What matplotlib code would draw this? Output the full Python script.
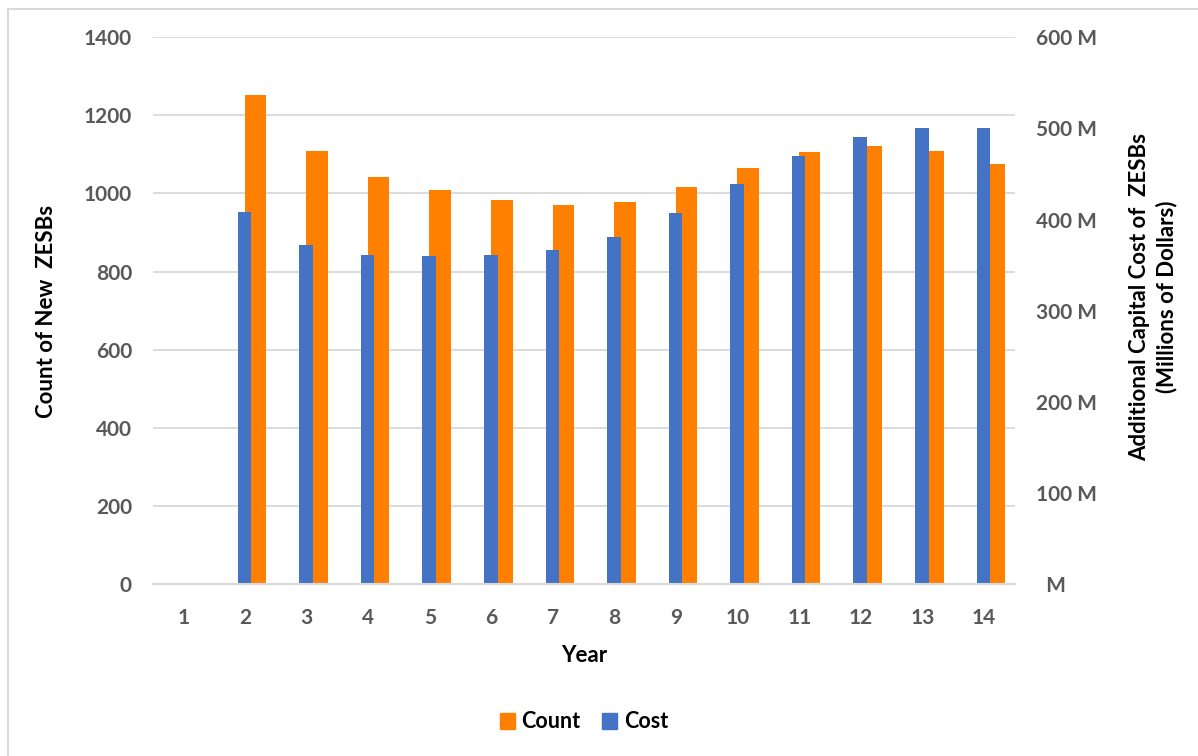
import matplotlib.pyplot as plt
from matplotlib.lines import Line2D
from matplotlib.patches import Patch
from matplotlib.ticker import FuncFormatter

YEARS = list(range(1, 15))
COUNT = [0, 1252, 1109, 1043, 1009, 983, 970, 978, 1016, 1065, 1106, 1121, 1110, 1076]
COST_M = [0, 408, 372, 361, 360, 361, 367, 381, 407, 439, 470, 491, 500, 500]

ORANGE = "#ff7f00"
BLUE = "#4472c4"
GREY_TEXT = "#595959"
GRID = "#d9d9d9"
FONT = "Lato"
W, H = 1198, 756


def main():
    plt.rcParams["font.family"] = [FONT, "DejaVu Sans"]
    plt.rcParams["font.weight"] = "bold"

    fig = plt.figure(figsize=(W / 100, H / 100), dpi=100)
    ax = fig.add_axes([0.1275, 0.2275, 0.7195, 0.7232])
    ax2 = ax.twinx()

    ax.bar([y + 0.17 for y in YEARS], COUNT, width=0.35, color=ORANGE, zorder=2)
    ax2.bar([y - 0.01 for y in YEARS], COST_M, width=0.22, color=BLUE, zorder=2)

    ax.set_xlim(0.5, 14.5)
    ax.set_ylim(0, 1400)
    ax2.set_ylim(0, 600)
    ax.set_xticks(YEARS)
    ax.set_yticks(range(0, 1401, 200))
    ax2.set_yticks(range(0, 601, 100))
    ax2.yaxis.set_major_formatter(
        FuncFormatter(lambda v, _: "  M" if v == 0 else f"{int(v)} M")
    )

    ax.grid(axis="y", color=GRID, linewidth=1.3, zorder=0)
    ax.set_axisbelow(True)
    for a in (ax, ax2):
        for side in ("top", "right", "left"):
            a.spines[side].set_visible(False)
        a.spines["bottom"].set_color(GRID)
        a.spines["bottom"].set_linewidth(1.5)
        a.tick_params(length=0, labelsize=15, labelcolor=GREY_TEXT)
    ax.tick_params(axis="y", pad=15)
    ax2.tick_params(axis="y", pad=15)
    ax.tick_params(axis="x", pad=17)

    fig.text(584 / W, 1 - 656 / H, "Year", fontsize=16, fontweight="bold",
             ha="center", va="center")
    fig.text(47 / W, 1 - 311 / H, "Count of New  ZESBs", fontsize=16,
             fontweight="bold", ha="center", va="center", rotation=90)
    fig.text(1153 / W, 1 - 297 / H,
             "Additional Capital Cost of  ZESBs\n(Millions of Dollars)",
             fontsize=16, fontweight="bold", ha="center", va="center",
             rotation=90, multialignment="center", linespacing=1.3)

    handles = [Patch(color=ORANGE, label="Count"), Patch(color=BLUE, label="Cost")]
    fig.legend(
        handles=handles, loc="center", bbox_to_anchor=(584 / W, 1 - 722 / H), ncol=2,
        frameon=False, fontsize=15.5, handlelength=0.7, handleheight=0.7,
        handletextpad=0.3, columnspacing=1.0,
    )

    # chart area border (left and top edges)
    fig.add_artist(Line2D([8 / W, 8 / W], [0, 1 - 9 / H],
                          transform=fig.transFigure, color=GRID, linewidth=1.5))
    fig.add_artist(Line2D([8 / W, 1], [1 - 9 / H, 1 - 9 / H],
                          transform=fig.transFigure, color=GRID, linewidth=1.5))

    fig.savefig("out.png", dpi=100)


if __name__ == "__main__":
    main()
